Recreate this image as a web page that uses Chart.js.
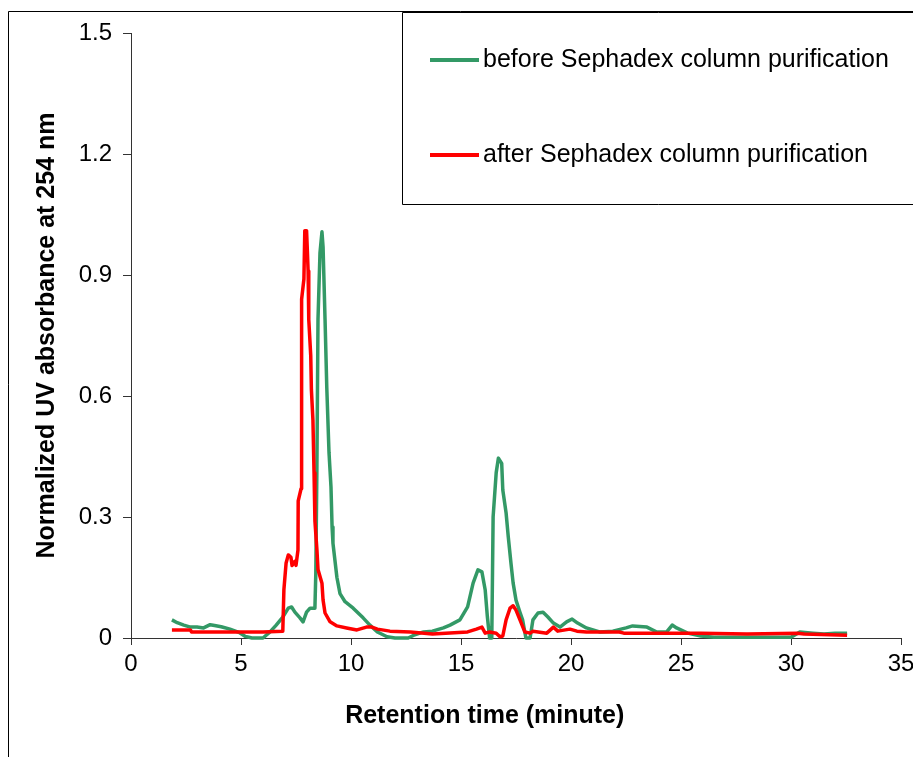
<!DOCTYPE html>
<html><head><meta charset="utf-8">
<script src="https://cdn.jsdelivr.net/npm/chart.js@4.4.1/dist/chart.umd.min.js"></script>
<style>html,body{margin:0;padding:0;background:#fff;}canvas{display:block;}</style>
</head><body>
<canvas id="c" width="913" height="757"></canvas>
<script>
const xTickValues = [0, 5, 10, 15, 20, 25, 30, 35];
const yTickValues = [0, 0.3, 0.6, 0.9, 1.2, 1.5];
const seriesNames = ['before Sephadex column purification', 'after Sephadex column purification'];
const xTitle = 'Retention time (minute)';
const yTitle = 'Normalized UV absorbance at 254 nm';

const beforeTime = [1.86,2.1,2.4,2.7,3.0,3.3,3.6,3.8,4.1,4.5,4.9,5.2,5.5,6.0,6.32,6.6,6.9,7.15,7.3,7.45,7.68,7.82,7.98,8.14,8.36,8.4,8.45,8.5,8.59,8.68,8.73,8.82,8.9,9.0,9.09,9.14,9.18,9.36,9.5,9.73,10.1,10.55,10.86,11.2,11.64,12.0,12.6,12.9,13.3,13.7,14.2,14.5,14.95,15.3,15.55,15.77,15.95,16.1,16.2,16.3,16.4,16.46,16.6,16.7,16.85,16.9,17.05,17.15,17.27,17.37,17.5,17.68,17.8,17.95,18.14,18.27,18.5,18.73,18.95,19.2,19.5,19.8,20.05,20.3,20.7,21.3,21.9,22.5,22.8,23.45,23.9,24.35,24.6,24.8,25.3,25.9,26.5,28.0,30.0,30.4,31.0,31.5,32.0,32.55];
const beforeValue = [0.045,0.038,0.032,0.027,0.027,0.025,0.033,0.031,0.028,0.022,0.014,0.004,0.0,0.0,0.015,0.032,0.052,0.074,0.077,0.064,0.05,0.04,0.064,0.074,0.074,0.16,0.42,0.79,0.955,1.007,0.97,0.79,0.62,0.46,0.375,0.275,0.235,0.15,0.11,0.09,0.074,0.05,0.032,0.015,0.003,0.0,0.0,0.008,0.015,0.017,0.025,0.032,0.045,0.077,0.136,0.169,0.164,0.119,0.052,0.0,0.0,0.30,0.41,0.446,0.433,0.367,0.31,0.25,0.186,0.136,0.094,0.064,0.045,0.0,0.0,0.045,0.062,0.064,0.052,0.037,0.027,0.04,0.047,0.037,0.025,0.015,0.017,0.025,0.03,0.027,0.015,0.015,0.032,0.025,0.012,0.005,0.002,0.002,0.002,0.015,0.012,0.01,0.012,0.012];

const afterTime = [1.86,2.7,2.75,4.0,5.0,6.0,6.9,6.95,7.05,7.15,7.27,7.32,7.45,7.5,7.59,7.6,7.73,7.74,7.77,7.86,7.9,7.98,8.02,8.05,8.08,8.17,8.2,8.27,8.32,8.36,8.45,8.5,8.68,8.73,8.82,9.05,9.36,9.8,10.27,10.7,10.95,11.2,11.77,12.7,13.7,15.3,15.7,15.95,16.1,16.3,16.6,16.77,16.9,17.05,17.23,17.37,17.5,17.68,17.9,18.14,18.27,18.9,19.2,19.4,19.95,20.27,20.7,22.2,22.4,25.9,28.0,30.3,30.6,32.55];
const afterValue = [0.02,0.02,0.015,0.015,0.015,0.015,0.017,0.12,0.186,0.206,0.20,0.18,0.19,0.18,0.218,0.34,0.37,0.68,0.84,0.89,1.01,1.01,0.955,0.91,0.79,0.70,0.615,0.54,0.41,0.29,0.22,0.17,0.136,0.094,0.062,0.04,0.03,0.025,0.02,0.027,0.027,0.022,0.017,0.015,0.01,0.015,0.022,0.027,0.012,0.015,0.012,0.003,0.005,0.045,0.074,0.08,0.069,0.045,0.015,0.012,0.017,0.012,0.027,0.017,0.022,0.017,0.015,0.015,0.012,0.012,0.01,0.012,0.01,0.007];

const colors = ['#339966', '#ff0000'];
const FONT = '"Liberation Sans", Arial, sans-serif';
const axisColor = '#333333';

function toPoints(xs, ys) { return xs.map((x, i) => ({ x: x, y: ys[i] })); }

const framePlugin = {
  id: 'frameLegend',
  beforeDraw(chart) {
    const ctx = chart.ctx;
    ctx.save();
    ctx.fillStyle = '#ffffff';
    ctx.fillRect(0, 0, chart.width, chart.height);
    ctx.restore();
  },
  afterDraw(chart) {
    const ctx = chart.ctx;
    ctx.save();
    ctx.strokeStyle = '#000000';
    ctx.lineWidth = 1;
    ctx.beginPath();
    ctx.moveTo(8.5, chart.height);
    ctx.lineTo(8.5, 11.5);
    ctx.lineTo(chart.width, 11.5);
    ctx.stroke();
    ctx.fillStyle = '#ffffff';
    ctx.beginPath();
    ctx.rect(402.5, 12.5, 600, 192);
    ctx.fill();
    ctx.stroke();
    const rowsY = [60, 155];
    chart.data.datasets.forEach((ds, i) => {
      const y = rowsY[i];
      ctx.strokeStyle = ds.borderColor;
      ctx.lineWidth = 4;
      ctx.beginPath();
      ctx.moveTo(430, y);
      ctx.lineTo(479, y);
      ctx.stroke();
      ctx.fillStyle = '#000000';
      ctx.font = '25px ' + FONT;
      ctx.textAlign = 'left';
      ctx.textBaseline = 'alphabetic';
      ctx.fillText(ds.label, 483, y + 7);
    });
    ctx.restore();
  }
};

new Chart(document.getElementById('c'), {
  type: 'line',
  data: {
    datasets: [
      { label: seriesNames[0], data: toPoints(beforeTime, beforeValue), borderColor: colors[0], backgroundColor: colors[0], borderWidth: 3.5, pointRadius: 0, tension: 0, order: 1, clip: false, borderJoinStyle: 'round' },
      { label: seriesNames[1], data: toPoints(afterTime, afterValue), borderColor: colors[1], backgroundColor: colors[1], borderWidth: 3.5, pointRadius: 0, tension: 0, order: 0, clip: false, borderJoinStyle: 'round' }
    ]
  },
  options: {
    responsive: false,
    animation: false,
    layout: { padding: { top: 33, right: 0, left: 0, bottom: 0 } },
    plugins: { legend: { display: false }, tooltip: { enabled: false } },
    scales: {
      x: {
        type: 'linear', min: 0, max: 35,
        afterBuildTicks: s => { s.ticks = xTickValues.map(v => ({ value: v })); },
        afterFit: s => { s.height = 119; s.paddingRight = 12; s.paddingLeft = 0; },
        ticks: { font: { family: FONT, size: 24 }, color: '#000', padding: 5, maxRotation: 0, callback: v => String(v) },
        grid: { drawOnChartArea: false, drawTicks: true, tickLength: 7, color: axisColor },
        border: { display: true, color: axisColor, width: 1 },
        title: { display: true, text: xTitle + '         ', font: { family: FONT, size: 25, weight: 'bold' }, color: '#000', padding: { top: 0, bottom: 26 } }
      },
      y: {
        type: 'linear', min: 0, max: 1.5,
        afterBuildTicks: s => { s.ticks = yTickValues.map(v => ({ value: v })); },
        afterFit: s => { s.width = 131; },
        ticks: { font: { family: FONT, size: 24 }, color: '#000', padding: 11, callback: v => (v === 0 ? '0' : Number(v).toFixed(1)) },
        grid: { drawOnChartArea: false, drawTicks: true, tickLength: 8, color: axisColor },
        border: { display: true, color: axisColor, width: 1 },
        title: { display: true, text: yTitle, font: { family: FONT, size: 25, weight: 'bold' }, color: '#000', padding: { top: 32, bottom: 0 } }
      }
    }
  },
  plugins: [framePlugin]
});
</script>
</body></html>
